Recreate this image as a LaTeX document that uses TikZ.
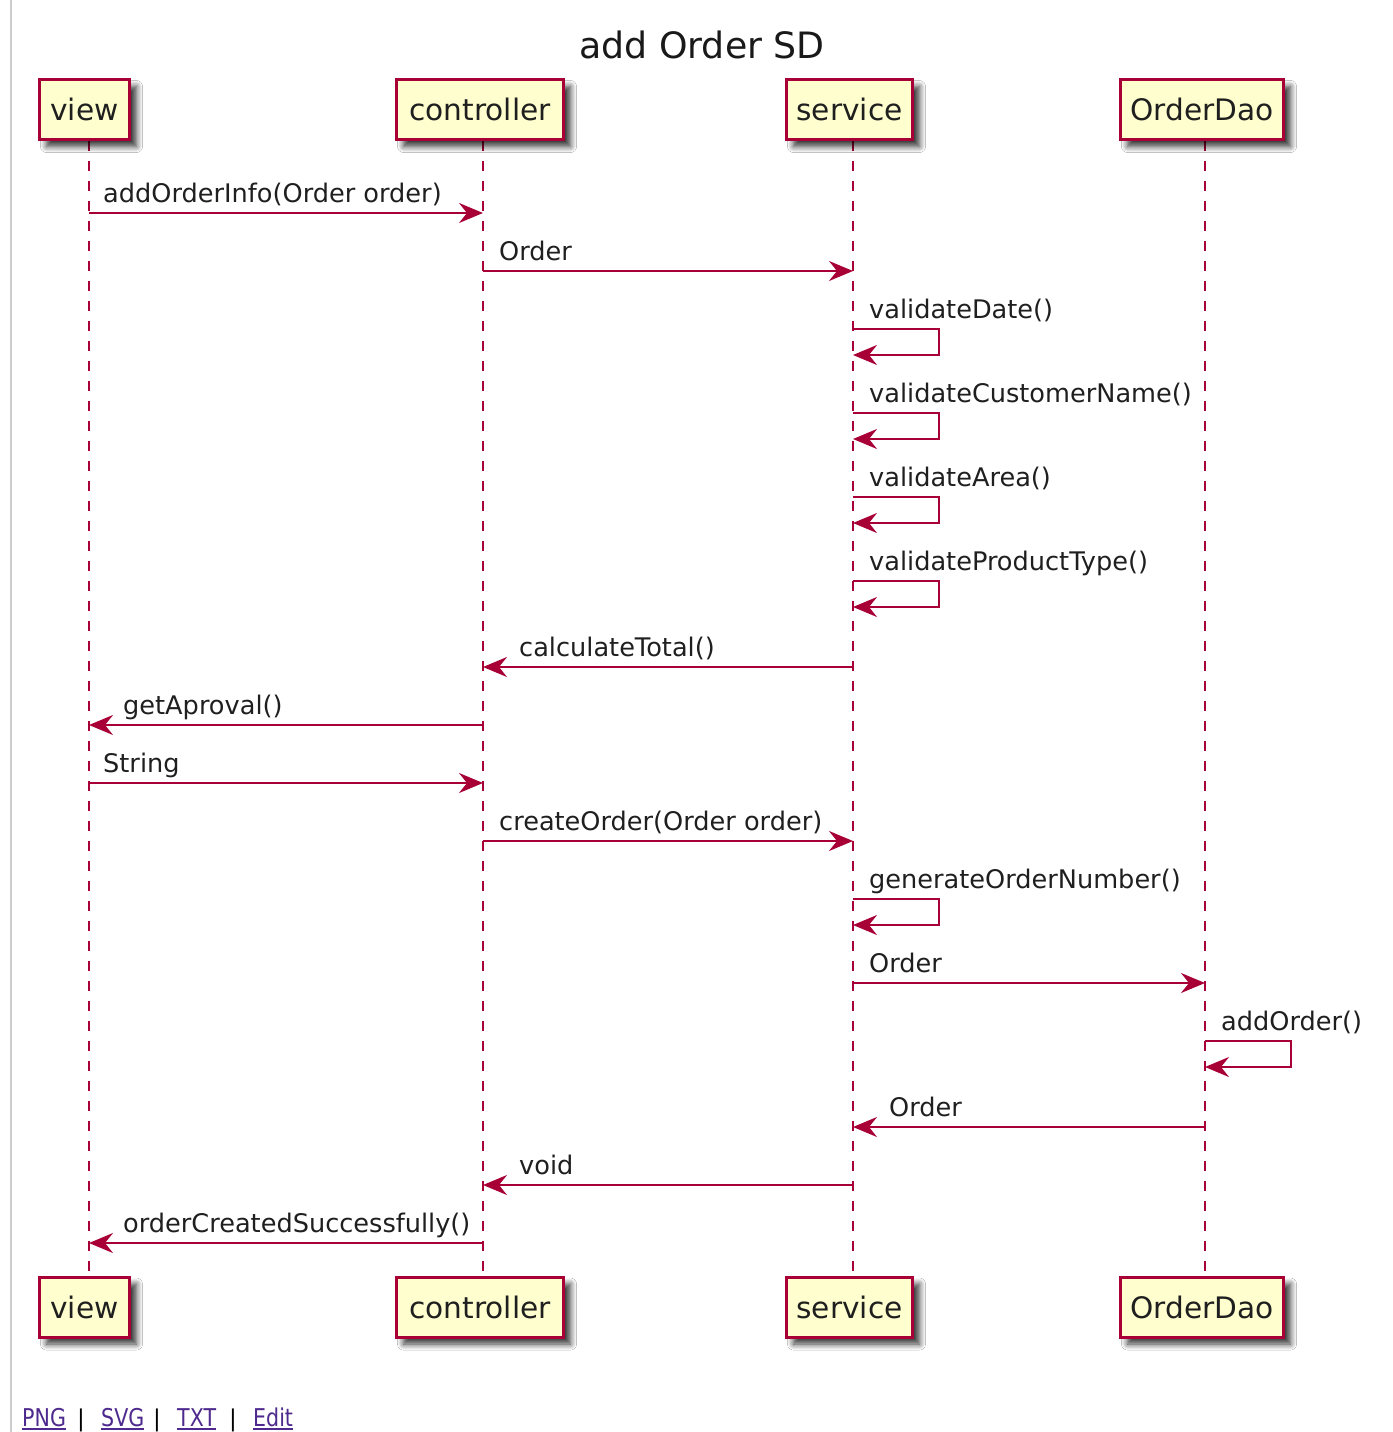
\documentclass[tikz,border=0pt]{standalone}
\usepackage{fontspec}
\setmainfont{DejaVu Sans}
\usetikzlibrary{arrows.meta,shadows.blur}
\definecolor{umlred}{HTML}{A80036}
\definecolor{umlfill}{HTML}{FEFECE}
\definecolor{linkc}{HTML}{4E2A8E}
\newcommand{\lnk}[1]{\scalebox{0.84}[1]{#1}}
\begin{document}
\begin{tikzpicture}[x=1pt,y=-1pt,
  part/.style={draw=umlred, line width=3pt, fill=umlfill, minimum height=60pt, inner sep=0pt,
    font=\fontsize{29.6}{34}\selectfont, text=black!88,
    blur shadow={shadow xshift=7pt, shadow yshift=-7pt, shadow blur radius=6pt, shadow opacity=80, shadow blur steps=10}},
  life/.style={draw=umlred, line width=2pt, dash pattern=on 10pt off 10pt},
  msg/.style={draw=umlred, line width=2pt, -{Stealth[length=24pt,width=20pt,inset=8pt]}},
  lbl/.style={anchor=base west, inner sep=0pt, font=\fontsize{25.6}{30}\selectfont, text=black!88},
  link/.style={anchor=base west, inner sep=0pt, font=\fontsize{24.5}{28}\selectfont, text=linkc},
  sep/.style={anchor=base west, inner sep=0pt, font=\fontsize{23}{27}\selectfont, text=black},
  uline/.style={draw=linkc, line width=2pt},
]
\useasboundingbox (0,0) rectangle (1392,1432);
\fill[white] (0,0) rectangle (1392,1432);
\draw[line width=2pt, draw=black!20] (11,0) -- (11,1432);

% title
\node[font=\fontsize{36.3}{42}\selectfont, text=black!90] (title) at (702,45) {add Order SD};

% lifeline coordinates
\coordinate (Lv) at (89,0);
\coordinate (Lc) at (483,0);
\coordinate (Ls) at (853,0);
\coordinate (Ld) at (1205,0);

% lifelines
\draw[life] (Lv |- 0,141) -- (Lv |- 0,1276);
\draw[life] (Lc |- 0,141) -- (Lc |- 0,1276);
\draw[life] (Ls |- 0,141) -- (Ls |- 0,1276);
\draw[life] (Ld |- 0,141) -- (Ld |- 0,1276);

% participants top
\node[part, minimum width=90pt] (viewT) at (84.5,109.5) {view};
\node[part, minimum width=167pt] (ctrlT) at (480,109.5) {controller};
\node[part, minimum width=126pt] (servT) at (849.5,109.5) {service};
\node[part, minimum width=163pt] (daoT) at (1202,109.5) {OrderDao};
% participants bottom
\node[part, minimum width=90pt] (viewB) at (84.5,1307) {view};
\node[part, minimum width=167pt] (ctrlB) at (480,1307) {controller};
\node[part, minimum width=126pt] (servB) at (849.5,1307) {service};
\node[part, minimum width=163pt] (daoB) at (1202,1307) {OrderDao};

% messages
\draw[msg] (Lv |- 0,213) -- (Lc |- 0,213);
\node[lbl] (m1) at (103,202) {addOrderInfo(Order order)};

\draw[msg] (Lc |- 0,271) -- (Ls |- 0,271);
\node[lbl] (m2) at (499,260) {Order};

\draw[msg] (Ls |- 0,329) -- (939,329) -- (939,355) -- (Ls |- 0,355);
\node[lbl] (m3) at (869,318) {validateDate()};

\draw[msg] (Ls |- 0,413) -- (939,413) -- (939,439) -- (Ls |- 0,439);
\node[lbl] (m4) at (869,402) {validateCustomerName()};

\draw[msg] (Ls |- 0,497) -- (939,497) -- (939,523) -- (Ls |- 0,523);
\node[lbl] (m5) at (869,486) {validateArea()};

\draw[msg] (Ls |- 0,581) -- (939,581) -- (939,607) -- (Ls |- 0,607);
\node[lbl] (m6) at (869,570) {validateProductType()};

\draw[msg] (Ls |- 0,667) -- (Lc |- 0,667);
\node[lbl] (m7) at (519,656) {calculateTotal()};

\draw[msg] (Lc |- 0,725) -- (Lv |- 0,725);
\node[lbl] (m8) at (123,714) {getAproval()};

\draw[msg] (Lv |- 0,783) -- (Lc |- 0,783);
\node[lbl] (m9) at (103,772) {String};

\draw[msg] (Lc |- 0,841) -- (Ls |- 0,841);
\node[lbl] (m10) at (499,830) {createOrder(Order order)};

\draw[msg] (Ls |- 0,899) -- (939,899) -- (939,925) -- (Ls |- 0,925);
\node[lbl] (m11) at (869,888) {generateOrderNumber()};

\draw[msg] (Ls |- 0,983) -- (Ld |- 0,983);
\node[lbl] (m12) at (869,972) {Order};

\draw[msg] (Ld |- 0,1041) -- (1291,1041) -- (1291,1067) -- (Ld |- 0,1067);
\node[lbl] (m13) at (1221,1030) {addOrder()};

\draw[msg] (Ld |- 0,1127) -- (Ls |- 0,1127);
\node[lbl] (m14) at (889,1116) {Order};

\draw[msg] (Ls |- 0,1185) -- (Lc |- 0,1185);
\node[lbl] (m15) at (519,1174) {void};

\draw[msg] (Lc |- 0,1243) -- (Lv |- 0,1243);
\node[lbl] (m16) at (123,1232) {orderCreatedSuccessfully()};

% footer links
\node[link] (png) at (22,1426) {\lnk{PNG}};
\draw[uline] (png.base west) ++(0,3) -- ([yshift=-3pt]png.base east);
\node[sep] (s1) at (77,1426) {|};
\node[link] (svg) at (101,1426) {\lnk{SVG}};
\draw[uline] (svg.base west) ++(0,3) -- ([yshift=-3pt]svg.base east);
\node[sep] (s2) at (153,1426) {|};
\node[link] (txt) at (177,1426) {\lnk{TXT}};
\draw[uline] (txt.base west) ++(0,3) -- ([yshift=-3pt]txt.base east);
\node[sep] (s3) at (229,1426) {|};
\node[link] (edit) at (253,1426) {\lnk{Edit}};
\draw[uline] (edit.base west) ++(0,3) -- ([yshift=-3pt]edit.base east);
\end{tikzpicture}
\end{document}
